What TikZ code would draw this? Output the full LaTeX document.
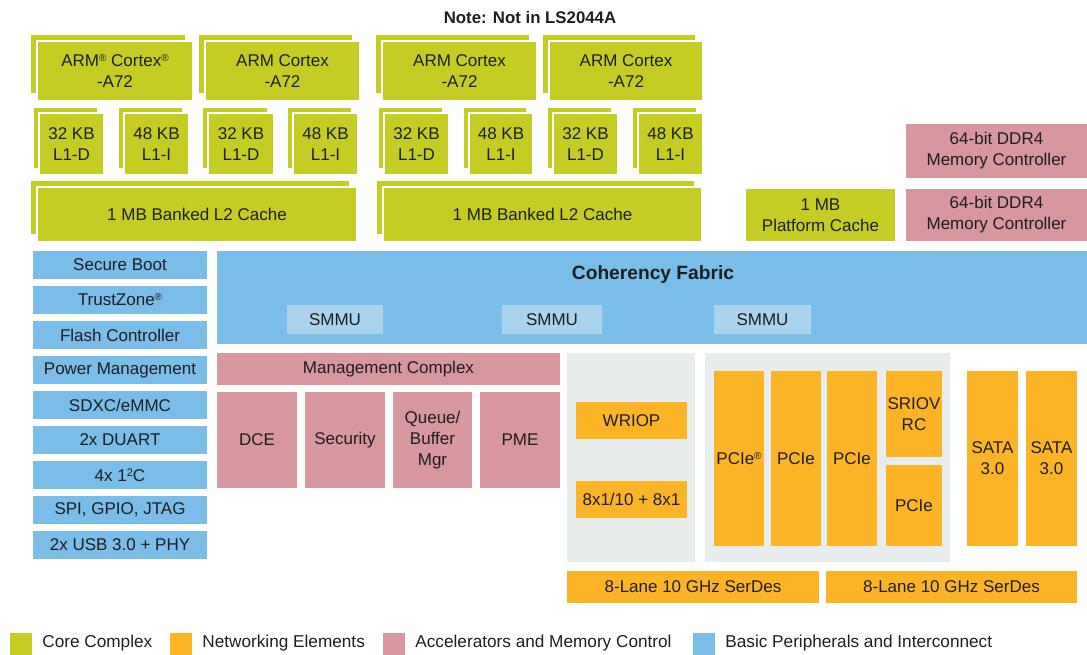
\documentclass[tikz,border=0pt]{standalone}
\usepackage{fontspec}
\setmainfont{Liberation Sans}
\usetikzlibrary{fit}
\usetikzlibrary{shadows}

\definecolor{corecol}{RGB}{197,205,37}
\definecolor{netcol}{RGB}{251,180,38}
\definecolor{acccol}{RGB}{214,151,158}
\definecolor{pericol}{RGB}{122,189,232}
\definecolor{smmucol}{RGB}{171,211,236}
\definecolor{panelcol}{RGB}{232,236,236}
\definecolor{txtcol}{RGB}{30,30,30}

\newcommand{\regmark}{\raisebox{0.55ex}{\fontsize{5}{5}\selectfont ®}}

\tikzset{
  blk/.style={inner sep=0pt, outer sep=0pt},
  lbl/.style={label={[inner sep=0pt, align=center, text=txtcol,
    font=\fontsize{8.5}{10.5}\selectfont]center:#1}},
  core/.style={blk, fill=corecol},
  net/.style={blk, fill=netcol},
  acc/.style={blk, fill=acccol},
  peri/.style={blk, fill=pericol},
  smmu/.style={blk, fill=smmucol},
  panel/.style={blk, fill=panelcol},
  stacked/.style={draw=white, line width=0.8pt,
    copy shadow={shadow xshift=-#1, shadow yshift=#1}},
  stacked/.default=3.4pt,
  keytext/.style={anchor=west, text=txtcol, inner sep=0pt,
    font=\fontsize{8.6}{10}\selectfont}
}

\begin{document}
\begin{tikzpicture}[x=0.5pt,y=-0.5pt]
  \useasboundingbox (0,0) rectangle (1087,654);

  \node[font=\bfseries\fontsize{8.4}{10}\selectfont, text=txtcol] (note) at (530,17) {Note: Not in LS2044A};

  % cores
  \node[core, stacked, fit={(37,41) (193,101)}, lbl={ARM\regmark{} Cortex\regmark\\-A72}] (cpuA) {};
  \node[core, stacked, fit={(205,41) (360,101)}, lbl={ARM Cortex\\-A72}] (cpuB) {};
  \node[core, stacked, fit={(382,41) (537,101)}, lbl={ARM Cortex\\-A72}] (cpuC) {};
  \node[core, stacked, fit={(549,41) (703,101)}, lbl={ARM Cortex\\-A72}] (cpuD) {};

  % L1 caches
  \foreach \xa/\xb/\kb/\lv [count=\k] in {39/104/32/D, 124/189/48/I, 208/274/32/D, 293/358/48/I,
      384/449/32/D, 469/533/48/I, 553/618/32/D, 638/703/48/I}
    \node[core, stacked=3pt, fit={(\xa,113) (\xb,175)}, lbl={\kb\ KB\\L1-\lv}] (lone\k) {};

  % L2 caches
  \node[core, stacked, fit={(37,187) (357,242)}, lbl={1 MB Banked L2 Cache}] (ltwoA) {};
  \node[core, stacked, fit={(383,187) (702,242)}, lbl={1 MB Banked L2 Cache}] (ltwoB) {};

  \node[core, fit={(746,189) (895,241)}, lbl={1 MB\\Platform Cache}] (pcache) {};
  \node[acc, fit={(906,124) (1087,178)}, lbl={64-bit DDR4\\Memory Controller}] (ddrA) {};
  \node[acc, fit={(906,189) (1087,241)}, lbl={64-bit DDR4\\Memory Controller}] (ddrB) {};

  % coherency fabric
  \node[peri, fit={(217,251) (1087,344)}] (fabric) {};
  \node[font=\bfseries\fontsize{9.6}{11}\selectfont, text=txtcol] (fabtitle) at (653,275) {Coherency Fabric};
  \node[smmu, fit={(287,305) (383,334)}, lbl=SMMU] (smmuA) {};
  \node[smmu, fit={(502,305) (602,334)}, lbl=SMMU] (smmuB) {};
  \node[smmu, fit={(714,305) (811,334)}, lbl=SMMU] (smmuC) {};

  % basic peripherals
  \foreach \name [count=\i from 0] in {Secure Boot, TrustZone\regmark, Flash Controller,
      Power Management, SDXC/eMMC, 2x DUART, 4x 1\raisebox{0.55ex}{\fontsize{5.5}{5}\selectfont 2}C,
      {SPI, GPIO, JTAG}, 2x USB 3.0 + PHY}
    \node[peri, fit={(33,251+35*\i) (207,279+35*\i)}, lbl={\name}] (per\i) {};

  % accelerators
  \node[acc, fit={(217,353) (560,385)}, lbl={Management Complex}] (mgmt) {};
  \node[acc, fit={(217,392) (297,488)}, lbl=DCE] (dce) {};
  \node[acc, fit={(305,392) (385,488)}, lbl=Security] (sec) {};
  \node[acc, fit={(393,392) (472,488)}, lbl={Queue/\\Buffer\\Mgr}] (qbman) {};
  \node[acc, fit={(480,392) (560,488)}, lbl=PME] (pme) {};

  % networking
  \node[panel, fit={(567,353) (695,562)}] (ethpanel) {};
  \node[panel, fit={(705,353) (950,562)}] (pcipanel) {};
  \node[net, fit={(576,402) (687,439)}, lbl=WRIOP] (wriop) {};
  \node[net, fit={(576,481) (687,518)}, lbl={8x1/10 + 8x1}] (ports) {};
  \node[net, fit={(714,371) (764,546)}, lbl={PCIe\regmark}] (pcieA) {};
  \node[net, fit={(771,371) (821,546)}, lbl=PCIe] (pcieB) {};
  \node[net, fit={(827,371) (877,546)}, lbl=PCIe] (pcieC) {};
  \node[net, fit={(886,371) (942,457)}, lbl={SRIOV\\RC}] (sriov) {};
  \node[net, fit={(886,465) (942,546)}, lbl=PCIe] (pcieD) {};
  \node[net, fit={(967,371) (1018,546)}, lbl={SATA\\3.0}] (sataA) {};
  \node[net, fit={(1026,371) (1077,546)}, lbl={SATA\\3.0}] (sataB) {};
  \node[net, fit={(567,571) (819,603)}, lbl={8-Lane 10 GHz SerDes}] (serdesA) {};
  \node[net, fit={(826,571) (1077,603)}, lbl={8-Lane 10 GHz SerDes}] (serdesB) {};

  % legend
  \foreach \col/\xs/\name [count=\k] in {corecol/10/Core Complex, netcol/170/Networking Elements,
      acccol/383/Accelerators and Memory Control, pericol/693/Basic Peripherals and Interconnect} {
    \node[fill=\col, inner sep=0pt, fit={(\xs,633) (\xs+22,655)}] (key\k) {};
    \node[keytext] (keytxt\k) at (\xs+32,643) {\name};
  }
\end{tikzpicture}
\end{document}
